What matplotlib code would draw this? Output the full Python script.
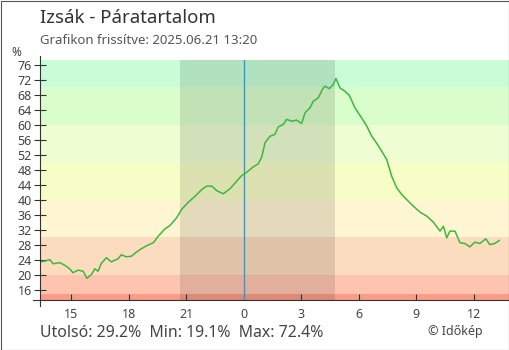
import matplotlib
matplotlib.use("Agg")
import matplotlib.pyplot as plt
from matplotlib.lines import Line2D
from matplotlib.patches import Rectangle

plt.rcParams['font.family'] = ['Noto Sans', 'DejaVu Sans']

# Hours counted from 2025-06-20 00:00 (values above 24 belong to 06.21)
hours = [13.38, 13.63, 13.89, 14.06, 14.41, 14.67, 14.93, 15.10, 15.37, 15.63,
         15.83, 16.06, 16.24, 16.41, 16.58, 16.84, 17.10, 17.45, 17.62, 17.88,
         18.15, 18.41, 18.67, 18.94, 19.29, 19.55, 19.90, 20.16, 20.51, 20.77,
         21.12, 21.47, 21.82, 22.08, 22.34, 22.60, 22.94, 23.29, 23.64, 23.90,
         24.17, 24.51, 24.77, 24.95, 25.12, 25.38, 25.64, 25.81, 26.07, 26.25,
         26.51, 26.77, 27.03, 27.21, 27.47, 27.64, 27.90, 28.13, 28.25, 28.47,
         28.68, 28.82, 29.03, 29.29, 29.52, 29.81, 30.16, 30.43, 30.69, 30.95,
         31.21, 31.47, 31.73, 31.99, 32.25, 32.51, 32.86, 33.21, 33.56, 33.90,
         34.25, 34.43, 34.60, 34.77, 35.03, 35.29, 35.55, 35.81, 36.07, 36.33,
         36.64, 36.85, 37.11, 37.34]
humidity = [23.5, 23.7, 24.1, 23.0, 23.3, 22.6, 21.65, 20.6, 21.3, 21.0,
            19.1, 20.1, 21.65, 21.0, 23.1, 24.6, 23.5, 24.3, 25.4, 24.85,
            25.0, 26.1, 27.0, 27.8, 28.6, 30.35, 32.3, 33.2, 35.25, 37.5,
            39.4, 41.0, 42.8, 43.7, 43.7, 42.5, 41.65, 43.0, 45.0, 46.5,
            47.4, 48.85, 49.65, 51.5, 55.25, 57.0, 57.5, 59.5, 60.1, 61.5,
            61.0, 61.3, 60.4, 63.25, 64.6, 66.35, 67.25, 69.65, 70.35, 69.7,
            70.8, 72.4, 69.9, 69.0, 67.9, 64.6, 61.9, 59.7, 57.0, 55.1,
            53.0, 50.8, 46.35, 43.25, 41.5, 40.1, 38.35, 36.75, 35.7, 34.1,
            31.7, 33.0, 29.9, 31.7, 31.7, 28.6, 28.4, 27.5, 28.75, 28.4,
            29.65, 28.1, 28.4, 29.2]

x_ticks = [15, 18, 21, 24, 27, 30, 33, 36]
x_tick_labels = ['15', '18', '21', '0', '3', '6', '9', '12']
y_ticks = list(range(16, 77, 4))

band_edges = [0, 15, 20, 30, 40, 50, 60, 70, 100]
band_colors = ['#f99c88', '#fdc5af', '#fbdcbe', '#fef6d2', '#f7fdc6',
               '#eefdd2', '#dafdcc', '#c9fdd7']

sunset, sunrise = 20.70, 28.79
midnight = 24.0
last, low, high = 29.2, 19.1, 72.4

W, H = 510, 350
fig = plt.figure(figsize=(W / 100, H / 100), dpi=100)
ax = fig.add_axes([40 / W, 1 - 300 / H, 469 / W, 240 / H])
ax.set_xlim(13.38, 37.85)
ax.set_ylim(13.33, 77.33)

for lo, hi, c in zip(band_edges[:-1], band_edges[1:], band_colors):
    ax.axhspan(lo, hi, color=c, lw=0, zorder=0)
ax.axvspan(sunset, sunrise, color='#000000', alpha=0.11, lw=0, zorder=1)
ax.axvline(midnight, color='#2b9be0', lw=1.0, zorder=2)
ax.plot(hours, humidity, color='#3cb83c', lw=1.1, zorder=3)

for s in ax.spines.values():
    s.set_visible(False)

ax.set_yticks(y_ticks)
ax.set_xticks(x_ticks)
ax.set_xticklabels(x_tick_labels)
ax.tick_params(axis='y', direction='inout', length=8.6, width=0.8,
               color='#333333', labelcolor='#444444', labelsize=9, pad=1.5)
ax.tick_params(axis='x', direction='in', length=4.3, width=0.8,
               color='#333333', labelcolor='#444444', labelsize=9, pad=6)


def px(x, y):
    return x / W, 1 - y / H


# axis lines reaching a little past the plot area
fig.add_artist(Line2D([40 / W, 40 / W], [1 - 56 / H, 1 - 306 / H],
                      color='#333333', lw=0.8))
fig.add_artist(Line2D([33 / W, 509 / W], [1 - 300 / H, 1 - 300 / H],
                      color='#333333', lw=0.8))

# outer frame
fig.add_artist(Rectangle((0.5 / W, 0.5 / H), (W - 1) / W, (H - 1) / H,
                         fill=False, ec='#555555', lw=0.8))

fig.text(*px(40, 18), 'Izsák - Páratartalom', fontsize=13.4, color='#333333',
         va='center', ha='left')
fig.text(*px(40, 40), 'Grafikon frissítve: 2025.06.21 13:20', fontsize=9.5,
         color='#555555', va='center', ha='left')
fig.text(*px(16, 52), '%', fontsize=8.5, color='#444444', va='center', ha='center')
fig.text(*px(40, 333),
         f'Utolsó: {last:.1f}%  Min: {low:.1f}%  Max: {high:.1f}%',
         fontsize=11.4, color='#444444', va='center', ha='left')
fig.text(*px(483, 331), '© Időkép', fontsize=9, color='#444444',
         va='center', ha='right')

fig.savefig('out.png', dpi=100)
